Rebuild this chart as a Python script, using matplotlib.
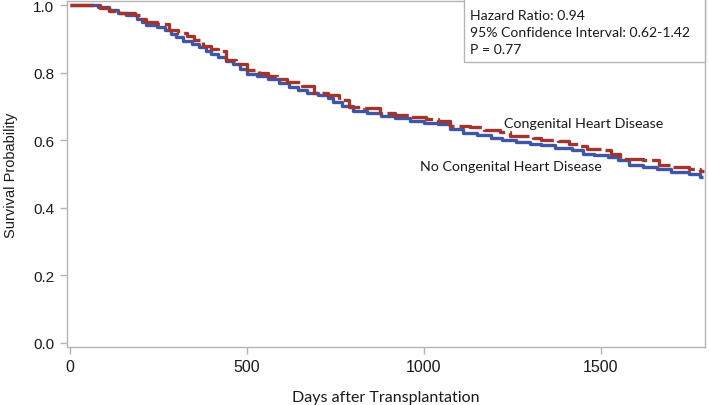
import matplotlib.pyplot as plt
from matplotlib.patches import Rectangle

# Kaplan-Meier estimates (day, survival)
no_chd_days = [0, 80, 110, 135, 160, 190, 205, 215, 245, 270,
               285, 300, 320, 345, 365, 385, 400, 420, 440, 460,
               480, 500, 530, 560, 590, 620, 645, 670, 700, 730,
               745, 770, 800, 840, 880, 920, 960, 1000, 1040, 1075,
               1110, 1150, 1190, 1220, 1260, 1300, 1330, 1370, 1420, 1450,
               1480, 1520, 1550, 1580, 1620, 1660, 1700, 1750, 1780, 1790]
no_chd_surv = [1.0, 0.995, 0.985, 0.977, 0.97, 0.96, 0.95, 0.942, 0.935, 0.925,
               0.915, 0.905, 0.895, 0.885, 0.875, 0.865, 0.855, 0.845, 0.835, 0.826,
               0.81, 0.795, 0.79, 0.78, 0.768, 0.758, 0.75, 0.74, 0.735, 0.725,
               0.712, 0.7, 0.685, 0.68, 0.672, 0.665, 0.658, 0.652, 0.647, 0.632,
               0.622, 0.615, 0.608, 0.6, 0.594, 0.59, 0.585, 0.576, 0.57, 0.56,
               0.555, 0.55, 0.54, 0.528, 0.522, 0.515, 0.506, 0.5, 0.49, 0.49]

chd_days = [0, 85, 110, 130, 185, 205, 215, 245, 280, 305,
            330, 350, 375, 400, 420, 440, 470, 500, 535, 560,
            585, 615, 655, 690, 730, 760, 790, 830, 875, 920,
            960, 1005, 1040, 1075, 1130, 1170, 1215, 1245, 1310, 1330,
            1380, 1410, 1440, 1460, 1500, 1530, 1555, 1620, 1665, 1700,
            1750, 1780, 1792]
chd_surv = [1.0, 0.992, 0.983, 0.977, 0.97, 0.96, 0.95, 0.944, 0.927, 0.918,
            0.908, 0.898, 0.879, 0.87, 0.865, 0.838, 0.825, 0.809, 0.8, 0.79,
            0.78, 0.772, 0.759, 0.741, 0.735, 0.72, 0.697, 0.694, 0.682, 0.676,
            0.67, 0.662, 0.656, 0.641, 0.638, 0.631, 0.624, 0.612, 0.606, 0.6,
            0.597, 0.59, 0.582, 0.574, 0.57, 0.56, 0.544, 0.541, 0.526, 0.52,
            0.515, 0.51, 0.51]

x_ticks = [0, 500, 1000, 1500]
y_ticks = [0.0, 0.2, 0.4, 0.6, 0.8, 1.0]

stats_text = "Hazard Ratio: 0.94\n95% Confidence Interval: 0.62-1.42\nP = 0.77"

blue = '#3F55A5'
red = '#A3342B'
grey = '#B4B4B4'

fig = plt.figure(figsize=(7.09, 4.06), dpi=100)
ax = fig.add_axes([0.094, 0.143, 0.9005, 0.852])

ax.step(no_chd_days, no_chd_surv, where='post', color=blue, lw=2.4,
        solid_capstyle='butt')
ax.step(chd_days, chd_surv, where='post', color=red, lw=2.4,
        linestyle=(0, (7, 1.5)))

ax.set_xlim(-9, 1795)
ax.set_ylim(-0.012, 1.012)
ax.set_xticks(x_ticks)
ax.set_yticks(y_ticks)
ax.set_yticklabels(['%.1f' % v for v in y_ticks], family='Liberation Sans',
                   fontsize=11)
ax.set_xticklabels([str(v) for v in x_ticks], family='Liberation Sans',
                   fontsize=11.5)

for s in ax.spines.values():
    s.set_color(grey)
    s.set_linewidth(1.0)
ax.tick_params(colors=grey, length=5, width=1.0, labelcolor='#1a1a1a', pad=4)

ax.set_ylabel('Survival Probability', family='Liberation Sans', fontsize=10.5,
              color='#1a1a1a', labelpad=11)
ax.set_xlabel('Days after Transplantation', family='Lato', fontsize=11.5,
              color='#1a1a1a', labelpad=11)

ax.text(1678, 0.652, 'Congenital Heart Disease', family='Lato', fontsize=10.3,
        ha='right', va='center', color='#1a1a1a')
ax.text(1503, 0.524, 'No Congenital Heart Disease', family='Lato', fontsize=10.3,
        ha='right', va='center', color='#1a1a1a')

ax.add_patch(Rectangle((0.623, 0.824), 0.377, 0.2, transform=ax.transAxes,
                       facecolor='white', edgecolor=grey, lw=1.0,
                       clip_on=False, zorder=3))
ax.text(0.632, 0.977, stats_text, transform=ax.transAxes, family='Lato',
        fontsize=10.1, va='top', ha='left', linespacing=1.5,
        color='#1a1a1a', zorder=4)

fig.savefig('out.png', dpi=100)
